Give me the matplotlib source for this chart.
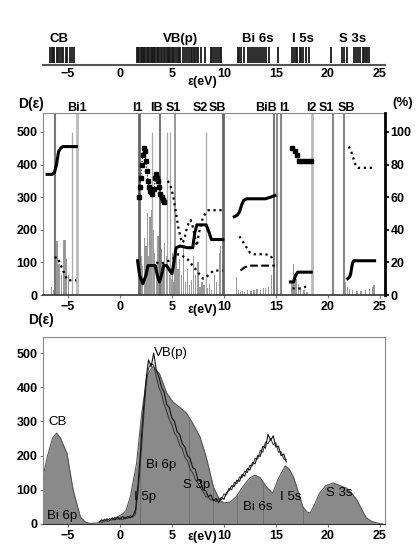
import matplotlib
matplotlib.use('Agg')
import matplotlib.pyplot as plt
import matplotlib.transforms as mtransforms

plt.rcParams['font.family'] = ['Liberation Sans', 'DejaVu Sans']
plt.rcParams['font.weight'] = 'bold'

# ---------------- data ----------------
xticks = [-5, 0, 5, 10, 15, 20, 25]
xlim = (-7.4, 25.5)

# top panel: energy levels
cb_levels = [-6.7, -6.55, -6.4, -6.3, -6.1, -5.95, -5.8, -5.6, -5.45, -5.2, -5.05, -4.85, -4.6, -4.45]
vb_levels = [1.6, 1.75, 1.85, 2.0, 2.1, 2.2, 2.35, 2.45, 2.6, 2.7, 2.8, 2.95, 3.05, 3.2, 3.3, 3.4,
             3.55, 3.7, 3.8, 3.95, 4.05, 4.2, 4.35, 4.5, 4.6, 4.75, 4.85, 5.0, 5.1, 5.25, 5.4, 5.55,
             5.7, 5.8, 6.1, 6.3, 6.5, 6.65, 6.8, 6.95, 7.1, 7.25, 7.4, 7.55, 7.8, 8.2, 8.75, 8.9,
             9.05, 9.25, 9.4, 9.6, 9.75]
bi6s_levels = [11.35, 11.5, 11.65, 11.9, 12.3, 12.5, 12.7, 12.9, 13.1, 13.3, 13.5, 13.7, 13.9, 14.1, 14.35, 15.2]
i5s_levels = [16.6, 16.75, 16.9, 17.05, 17.3, 17.45, 17.6, 17.9, 18.2]
s3s_levels = [20.3, 21.4, 21.6, 21.8, 22.5, 22.7, 22.9, 23.1, 23.35, 23.5, 23.65, 23.8, 24.0]
top_labels = ['CB', 'VB(p)', 'Bi 6s', 'I 5s', 'S 3s']
top_label_x = [-5.9, 5.8, 13.3, 17.6, 22.4]

# middle panel: histogram bars (left axis)
bar_e = [-6.6, -6.4, -6.05, -5.85, -5.65, -5.45, -5.3, -5.15, -4.95,
         1.95, 2.05, 2.2, 2.35, 2.5, 2.65, 2.75, 2.9, 3.05, 3.2, 3.35, 3.5, 3.65, 3.8, 4.0, 4.15,
         4.3, 4.45, 4.6, 4.75, 4.9, 5.05, 5.2, 5.45, 5.6, 5.75, 5.95, 6.1, 6.3, 6.5, 6.7, 6.9,
         7.1, 7.3, 7.5, 7.7, 7.9, 8.1, 8.4, 8.6, 8.8, 9.1, 9.3, 9.55, 9.7,
         11.2, 11.4, 11.6, 11.8, 12.0, 12.3, 12.6, 12.9, 13.2, 13.5, 13.8, 14.0, 14.3, 14.6, 14.8,
         16.55, 16.7, 16.85, 17.0, 17.2, 17.4, 17.7, 18.0,
         21.7, 21.9, 22.1, 22.4, 22.8, 23.2, 23.6, 24.0, 24.3, 24.45]
bar_h = [25, 15, 165, 95, 60, 170, 170, 110, 60,
         165, 120, 90, 175, 150, 250, 120, 240, 260, 200, 130, 90, 180, 100, 140, 70,
         160, 120, 90, 60, 50, 130, 40, 150, 80, 110, 60, 150, 40, 80, 30, 45,
         120, 60, 100, 25, 40, 30, 20, 35, 15, 60, 40, 130, 150,
         55, 15, 10, 12, 10, 14, 12, 15, 18, 16, 20, 20, 25, 60, 20,
         40, 95, 65, 50, 35, 25, 15, 10,
         40, 25, 18, 15, 12, 12, 15, 18, 25, 30]

# middle panel: reference lines
full_lines = [-6.25, -4.1, 1.8, 3.9, 5.3, 9.9, 14.85, 15.15, 15.5, 18.5, 20.5, 21.6]
full_colors = ['#777777', '#bbbbbb', '#666666', '#777777', '#888888', '#666666',
               '#777777', '#777777', '#888888', '#bbbbbb', '#888888', '#888888']
full_widths = [1.5, 2.0, 2.0, 1.5, 1.2, 2.0, 1.5, 1.2, 1.5, 2.0, 1.5, 1.5]
half_lines = [-4.6, 3.1, 4.5, 4.8, 8.3]
half_top = 500
mid_labels = ['Bi1', 'I1', 'IB', 'S1', 'S2', 'SB', 'BiB', 'I1', 'I2', 'S1', 'SB']
mid_label_x = [-4.1, 1.7, 3.5, 5.1, 7.7, 9.4, 14.1, 15.8, 18.4, 19.9, 21.8]

# middle panel: percentage curves (right axis)
bi_solid_x = [-7.0, -6.5, -6.3, -6.1, -5.9, -5.7, -5.5, -4.2]
bi_solid_y = [74, 74, 75, 80, 88, 90, 91, 91]
bi_dot_x = [-6.3, -6.0, -5.8, -5.6, -5.4, -5.2, -5.0, -4.2]
bi_dot_y = [23, 23, 20, 17, 14, 11, 9, 9]

vb_solid_x = [1.7, 1.9, 2.2, 2.5, 2.7, 3.4, 3.6, 3.8, 4.0, 4.2, 4.5, 4.8, 5.0, 5.2, 5.4, 5.8,
              6.5, 7.0, 7.2, 7.4, 8.3, 8.6, 8.8, 9.9]
vb_solid_y = [21, 12, 7, 12, 18, 18, 12, 8, 12, 18, 18, 15, 13, 20, 29, 30, 29, 29, 38, 43, 43, 38, 34, 34]
vb_sq_x = [1.8, 1.9, 2.0, 2.1, 2.2, 2.3, 2.4, 2.5, 2.6, 2.7, 2.8, 2.9, 3.0, 3.1, 3.3, 3.4, 3.5,
           3.6, 3.7, 3.8, 3.9, 4.0, 4.1, 4.2]
vb_sq_y = [60, 66, 72, 80, 86, 90, 88, 82, 76, 70, 66, 64, 63, 62, 65, 72, 74, 72, 70, 66, 62, 60, 58, 57]
vb_dot_x = [4.6, 4.8, 5.0, 5.2, 5.4, 5.6, 5.8, 6.0, 6.2, 6.4, 6.6, 6.8, 7.0, 7.2, 7.4, 7.6, 8.0,
            8.5, 9.0, 9.5, 9.9]
vb_dot_y = [70, 68, 64, 58, 50, 42, 36, 32, 34, 40, 44, 46, 42, 36, 30, 38, 48, 52, 52, 52, 52]
vb_low_x = [3.5, 3.9, 4.3, 4.7, 5.0, 5.3, 5.6, 6.0, 6.5, 7.0, 7.5, 8.0, 8.5, 9.0, 9.5, 9.9]
vb_low_y = [20, 19, 20, 21, 22, 23, 25, 24, 22, 18, 14, 10, 12, 15, 15, 15]

bib_solid_x = [11.0, 11.3, 11.5, 11.7, 11.9, 12.2, 12.5, 14.0, 14.5, 14.9]
bib_solid_y = [48, 49, 51, 55, 58, 59, 59, 59, 60, 61]
bib_dot_x = [11.5, 11.7, 11.9, 12.1, 12.3, 12.5, 12.8, 13.5, 14.0, 14.5, 14.7]
bib_dot_y = [36, 34, 32, 30, 28, 26, 25, 25, 25, 24, 22]
bib_dash_x = [11.6, 12.0, 12.5, 13.0, 13.5, 14.0, 14.5, 14.9]
bib_dash_y = [15, 17, 18, 18, 18, 18, 18, 18]

i_sq_x = [16.6, 16.8, 17.0, 17.2, 17.6, 18.0, 18.4]
i_sq_y = [90, 88, 86, 82, 82, 82, 82]
i_solid_x = [16.4, 16.7, 16.9, 17.1, 17.5, 18.0, 18.4]
i_solid_y = [8, 8, 12, 14, 14, 14, 14]
i_dot_x = [16.6, 17.0, 17.4, 17.8, 18.2]
i_dot_y = [4, 4, 4, 5, 5]

s_dot_x = [22.0, 22.1, 22.2, 22.3, 22.4, 22.5, 22.6, 22.7, 22.9, 23.2, 23.6, 24.0, 24.5]
s_dot_y = [91, 90, 89, 87, 85, 83, 81, 79, 78, 78, 78, 78, 78]
s_solid_x = [21.9, 22.1, 22.2, 22.3, 22.4, 22.5, 23.0, 23.5, 24.5]
s_solid_y = [10, 11, 13, 17, 20, 21, 21, 21, 21]

# bottom panel: calculated DOS
dos_e = [-7.4, -7.0, -6.5, -6.1, -5.7, -5.1, -4.5, -3.8, -3.3, -2.9, -2.0, -1.0, -0.3, 0.3, 0.6,
         1.0, 1.6, 2.1, 2.6, 3.0, 3.2, 3.8, 4.5, 5.1, 5.8, 6.4, 7.0, 7.7, 8.3, 9.0, 9.6, 10.0,
         10.6, 11.2, 11.8, 12.5, 13.0, 13.5, 14.1, 14.7, 15.2, 15.9, 16.3, 16.7, 17.2, 17.6,
         18.0, 18.3, 18.7, 19.2, 19.8, 20.5, 21.2, 21.8, 22.3, 22.8, 23.3, 23.7, 24.2, 24.7, 25.3]
dos_d = [137, 195, 250, 266, 250, 207, 99, 20, 5, 2, 3, 8, 20, 30, 40,
         80, 177, 325, 430, 455, 460, 440, 383, 357, 340, 324, 295, 255, 196, 108, 70, 62,
         64, 80, 108, 135, 143, 135, 108, 90, 130, 170, 160, 137, 90, 50,
         35, 32, 55, 90, 112, 120, 112, 105, 90, 70, 40, 18, 8, 3, 0]
dos_dividers = [1.9, 6.6, 9.0, 11.3, 13.8, 17.6]

# bottom panel: experimental spectra
exp_e = [-2.0, -1.75, -1.5, -1.25, -1.0, -0.75, -0.5, -0.25, 0.0, 0.25, 0.5, 0.75, 1.0, 1.25,
         1.5, 1.75, 2.0, 2.25, 2.5, 2.75, 3.0, 3.25, 3.5, 3.75, 4.0, 4.25, 4.5, 4.75, 5.0, 5.25,
         5.5, 5.75, 6.0, 6.25, 6.5, 6.75, 7.0, 7.25, 7.5, 7.75, 8.0, 8.25, 8.5, 8.75, 9.0, 9.25,
         9.5, 9.75, 10.0, 10.25, 10.5, 10.75, 11.0, 11.25, 11.5, 11.75, 12.0, 12.25, 12.5, 12.75,
         13.0, 13.25, 13.5, 13.75, 14.0, 14.25, 14.5, 14.75, 15.0, 15.25, 15.5, 15.75, 16.0]
exp1_d = [5, 12, 8, 15, 10, 18, 12, 20, 14, 22, 15, 22, 18, 25,
          40, 120, 220, 330, 420, 480, 460, 500, 450, 430, 400, 385, 350, 340, 310, 300,
          270, 262, 235, 225, 200, 192, 165, 160, 130, 125, 100, 98, 80, 85, 68, 75,
          62, 78, 72, 92, 98, 112, 110, 128, 125, 145, 140, 162, 158, 180,
          176, 200, 198, 228, 222, 262, 245, 258, 225, 228, 200, 205, 182]
exp2_d = [8, 6, 14, 9, 16, 11, 19, 13, 18, 12, 20, 16, 24, 20,
          30, 95, 190, 300, 400, 455, 470, 465, 430, 400, 380, 350, 330, 305, 290, 265,
          255, 230, 220, 195, 185, 160, 150, 130, 120, 105, 95, 80, 78, 70, 72, 65,
          75, 70, 88, 85, 105, 100, 122, 118, 138, 135, 155, 150, 172, 170,
          192, 190, 215, 210, 240, 235, 250, 232, 238, 210, 212, 190, 188]
bot_labels = ['CB', 'Bi 6p', 'VB(p)', 'Bi 6p', 'I 5p', 'S 3p', 'Bi 6s', 'I 5s', 'S 3s']
bot_label_x = [-6.0, -5.6, 4.9, 4.0, 2.4, 7.4, 13.3, 16.4, 21.1]
bot_label_y = [298, 22, 500, 172, 79, 114, 50, 79, 90]

# ---------------- figure ----------------
W, H = 420, 544
fig = plt.figure(figsize=(W / 100, H / 100), dpi=100)


def rect(left, top, right, bottom):
    return [left / W, 1 - bottom / H, (right - left) / W, (bottom - top) / H]


tick_fs = 9

# ---- top panel ----
ax0 = fig.add_axes(rect(43, 47, 385, 65))
ax0.set_xlim(*xlim)
ax0.set_ylim(0, 1)
lev_groups = [cb_levels, vb_levels, bi6s_levels, i5s_levels, s3s_levels]
for grp in lev_groups:
    ax0.vlines(grp, 0.1, 1.0, color='#1a1a1a', lw=1.3)
for lab, lx in zip(top_labels, top_label_x):
    ax0.text(lx, 1.12, lab, ha='center', va='bottom', fontsize=9.5)
for s in ['top', 'left', 'right']:
    ax0.spines[s].set_visible(False)
ax0.spines['bottom'].set_color('#555555')
ax0.spines['bottom'].set_linewidth(1.5)
ax0.set_yticks([])
ax0.set_xticks(xticks)
ax0.tick_params(axis='x', length=0, pad=2, labelsize=tick_fs)
ax0.text(7.9, -0.95, 'ε(eV)', ha='center', va='center', fontsize=9,
         transform=mtransforms.blended_transform_factory(ax0.transData, ax0.transAxes))

# ---- middle panel ----
ax1 = fig.add_axes(rect(43, 113, 385, 295))
ax1.set_xlim(*xlim)
ymax1 = 558
ax1.set_ylim(0, ymax1)
ax1.bar(bar_e, bar_h, width=0.13, color='#9a9a9a', linewidth=0)
ax1.vlines(half_lines, 0, half_top, color='#aaaaaa', lw=0.9)
for xv, c, w in zip(full_lines, full_colors, full_widths):
    ax1.axvline(xv, color=c, lw=w)
ax1.set_xticks(xticks)
ax1.set_yticks([0, 100, 200, 300, 400, 500])
ax1.tick_params(axis='both', labelsize=tick_fs, length=2, pad=2, color='#777777')
for s in ['top', 'left']:
    ax1.spines[s].set_color('#888888')
ax1.spines['bottom'].set_color('#333333')
ax1.spines['bottom'].set_linewidth(1.2)
for lab, lx in zip(mid_labels, mid_label_x):
    ax1.text(lx, 1.028, lab, ha='center', va='center', fontsize=9,
             transform=mtransforms.blended_transform_factory(ax1.transData, ax1.transAxes))
ax1.text(7.9, -0.085, 'ε(eV)', ha='center', va='center', fontsize=9,
         transform=mtransforms.blended_transform_factory(ax1.transData, ax1.transAxes))

ax1r = ax1.twinx()
ax1r.set_ylim(0, ymax1 / 5)
ax1r.set_yticks([0, 20, 40, 60, 80, 100])
ax1r.tick_params(axis='y', labelsize=tick_fs, length=3, width=1.2, pad=1)
ax1r.spines['right'].set_color('black')
ax1r.spines['right'].set_linewidth(2.0)
for s in ['top', 'left', 'bottom']:
    ax1r.spines[s].set_visible(False)

solid_kw = dict(color='black', lw=2.2, solid_joinstyle='round')
sq_kw = dict(color='black', lw=0.8, ls=':', marker='s', ms=2.6)
dot_kw = dict(color='black', lw=1.6, ls=':')
dash_kw = dict(color='black', lw=1.5, ls='--')

ax1r.plot(bi_solid_x, bi_solid_y, **solid_kw)
ax1r.plot(bi_dot_x, bi_dot_y, **dot_kw)
ax1r.plot(vb_solid_x, vb_solid_y, **solid_kw)
ax1r.plot(vb_sq_x, vb_sq_y, **sq_kw)
ax1r.plot(vb_dot_x, vb_dot_y, **dot_kw)
ax1r.plot(vb_low_x, vb_low_y, **dot_kw)
ax1r.plot(bib_solid_x, bib_solid_y, **solid_kw)
ax1r.plot(bib_dot_x, bib_dot_y, **dot_kw)
ax1r.plot(bib_dash_x, bib_dash_y, **dash_kw)
ax1r.plot(i_sq_x, i_sq_y, **sq_kw)
ax1r.plot(i_solid_x, i_solid_y, **solid_kw)
ax1r.plot(i_dot_x, i_dot_y, **dot_kw)
ax1r.plot(s_dot_x, s_dot_y, **dot_kw)
ax1r.plot(s_solid_x, s_solid_y, **solid_kw)

fig.text(18 / W, 1 - 104 / H, 'D(ε)', fontsize=10, va='center', ha='left')
fig.text(392 / W, 1 - 103 / H, '(%)', fontsize=9.5, va='center', ha='left')

# ---- bottom panel ----
ax2 = fig.add_axes(rect(43, 337, 385, 524))
ax2.set_xlim(*xlim)
ax2.set_ylim(0, 547)
poly = ax2.fill_between(dos_e, dos_d, 0, color='#8a8a8a', lw=0)
ax2.plot(dos_e, dos_d, color='#555555', lw=0.8)
vl = ax2.vlines(dos_dividers, 0, 547, color='#6a6a6a', lw=0.6)
vl.set_clip_path(poly.get_paths()[0], poly.get_transform())
ax2.plot(exp_e, exp2_d, color='#333333', lw=0.7)
ax2.plot(exp_e, exp1_d, color='#111111', lw=0.8)
for lab, lx, ly in zip(bot_labels, bot_label_x, bot_label_y):
    ax2.text(lx, ly, lab, ha='center', va='center', fontsize=9.5, fontweight='normal')
ax2.set_xticks(xticks)
ax2.set_yticks([0, 100, 200, 300, 400, 500])
ax2.tick_params(axis='both', labelsize=tick_fs, length=2, pad=2, color='#777777')
for s in ['top', 'left', 'right']:
    ax2.spines[s].set_color('#888888')
ax2.spines['bottom'].set_color('#333333')
ax2.text(7.9, 1 - 537 / H, 'ε(eV)', ha='center', va='center', fontsize=9,
         transform=mtransforms.blended_transform_factory(ax2.transData, fig.transFigure))
fig.text(28 / W, 1 - 320 / H, 'D(ε)', fontsize=10, va='center', ha='left')

fig.savefig('out.png', dpi=100)
